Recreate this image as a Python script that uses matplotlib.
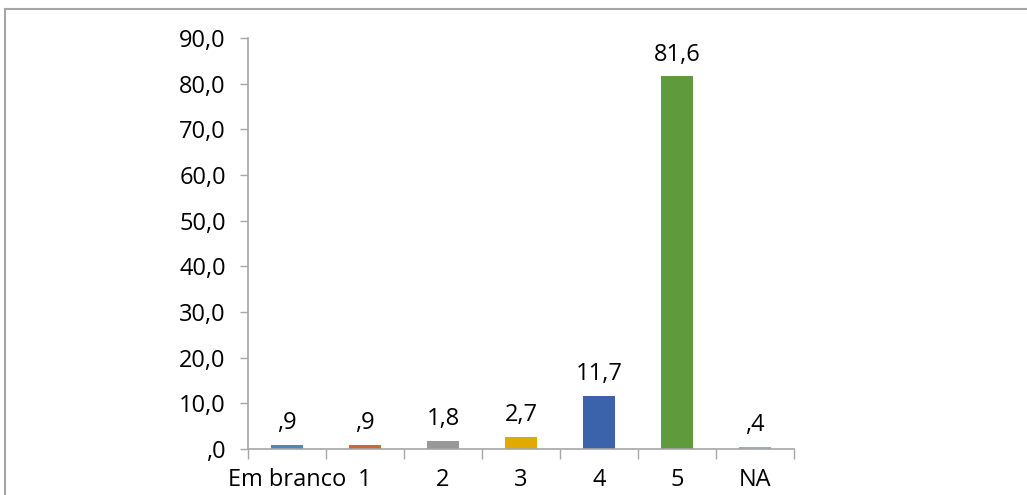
#!/usr/bin/env python3
"""Bar chart of answer shares (percent) per score."""

import matplotlib

matplotlib.use("Agg")
import matplotlib.pyplot as plt
from matplotlib.lines import Line2D
from matplotlib.ticker import FuncFormatter, MultipleLocator


CATEGORIES = ["Em branco", "1", "2", "3", "4", "5", "NA"]
PERCENTS = [0.9, 0.9, 1.8, 2.7, 11.7, 81.6, 0.4]
BAR_COLORS = ["#4E88C4", "#D2692C", "#989898", "#E2A900", "#3B63AC", "#5F9A3D", "#8FAEDC"]

AXIS_GREY = "#A6A6A6"
FONT_SIZE = 17


def pt_format(value: float) -> str:
    """Portuguese style: one decimal, comma, no leading zero."""
    text = f"{value:.1f}".replace(".", ",")
    if text.startswith("0,"):
        text = text[1:]
    return text


def main() -> None:
    plt.rcParams["font.family"] = ["Open Sans", "DejaVu Sans"]
    fig = plt.figure(figsize=(10.27, 4.95), dpi=100)
    ax = fig.add_axes([0.2415, 0.0929, 0.5317, 0.8303])

    positions = range(len(CATEGORIES))
    bars = ax.bar(positions, PERCENTS, width=0.41, color=BAR_COLORS, zorder=2)
    for bar, value in zip(bars, PERCENTS):
        ax.annotate(
            pt_format(value),
            (bar.get_x() + bar.get_width() / 2, bar.get_height()),
            xytext=(0, 7),
            textcoords="offset points",
            ha="center",
            va="bottom",
            fontsize=FONT_SIZE,
            color="#000000",
        )

    ax.set_xlim(-0.5, len(CATEGORIES) - 0.5)
    ax.set_ylim(0, 90)
    ax.yaxis.set_major_locator(MultipleLocator(10))
    ax.yaxis.set_major_formatter(FuncFormatter(lambda v, _: pt_format(v)))

    ax.set_xticks(list(positions))
    ax.set_xticklabels(CATEGORIES)
    ax.set_xticks([p - 0.5 for p in range(len(CATEGORIES) + 1)], minor=True)
    ax.tick_params(axis="x", which="major", length=0, pad=14, labelsize=FONT_SIZE)
    ax.tick_params(axis="x", which="minor", length=7, width=1, color=AXIS_GREY)
    ax.tick_params(axis="y", length=6, width=1, color=AXIS_GREY, pad=10, labelsize=FONT_SIZE)

    for side in ("top", "right"):
        ax.spines[side].set_visible(False)
    for side in ("left", "bottom"):
        ax.spines[side].set_color(AXIS_GREY)
        ax.spines[side].set_linewidth(1.2)

    # outer chart frame, clipped by the crop on the right and bottom
    fig.add_artist(Line2D([5 / 1027, 5 / 1027], [0, 1 - 9 / 495],
                          transform=fig.transFigure, color=AXIS_GREY, lw=1.5))
    fig.add_artist(Line2D([5 / 1027, 1], [1 - 9 / 495, 1 - 9 / 495],
                          transform=fig.transFigure, color=AXIS_GREY, lw=1.5))

    fig.savefig("out.png", dpi=100)


if __name__ == "__main__":
    main()
